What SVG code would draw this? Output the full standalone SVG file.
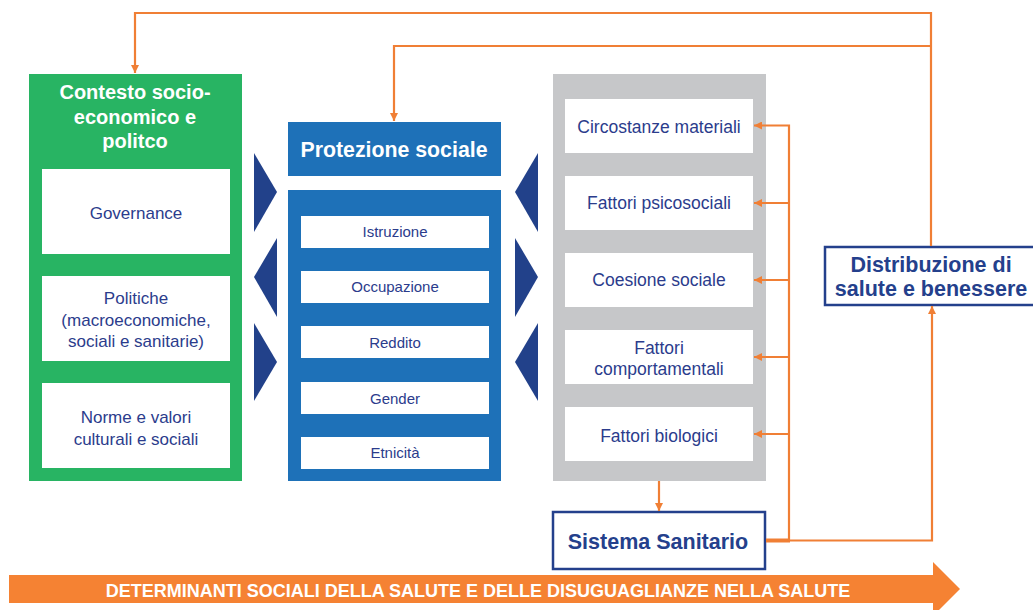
<svg xmlns="http://www.w3.org/2000/svg" width="1033" height="610" viewBox="0 0 1033 610">
<defs>
<style>
.t{font-family:"Liberation Sans",Arial,sans-serif;text-anchor:middle}
.w{fill:#ffffff}
.hd{font-weight:bold;fill:#ffffff;font-size:20px}
.sm{fill:#2B3C8C;font-size:15px}
.md{fill:#2B3C8C;font-size:17px}
.gm{fill:#2B3C8C;font-size:17.5px}
.bb{font-weight:bold;fill:#24408C;font-size:21px}
.ln{fill:none;stroke:#F07F35;stroke-width:2.2}
.tri{fill:#22418A}
</style>
<marker id="ah" viewBox="0 0 10 10" refX="10" refY="5" markerWidth="8" markerHeight="8" markerUnits="userSpaceOnUse" orient="auto">
<path d="M0,0 L10,5 L0,10 z" fill="#F07F35"/>
</marker>
</defs>
<rect width="1033" height="610" fill="#ffffff"/>

<g id="contesto">
<rect x="29" y="74" width="213" height="407" fill="#28B463"/>
<text class="t hd" x="135" y="99">Contesto socio-</text>
<text class="t hd" x="135" y="124">economico e</text>
<text class="t hd" x="135" y="148">politco</text>
<rect class="w" x="42" y="169" width="188" height="85"/>
<text class="t md" x="136" y="219">Governance</text>
<rect class="w" x="42" y="276" width="188" height="85"/>
<text class="t md" x="136" y="304">Politiche</text>
<text class="t md" x="136" y="326">(macroeconomiche,</text>
<text class="t md" x="136" y="347">sociali e sanitarie)</text>
<rect class="w" x="42" y="383" width="188" height="85"/>
<text class="t md" x="136" y="423">Norme e valori</text>
<text class="t md" x="136" y="445">culturali e sociali</text>
</g>

<g id="protezione">
<rect x="288" y="122" width="213" height="54" fill="#1E71B8"/>
<text class="t hd" x="394" y="157" style="font-size:21.3px">Protezione sociale</text>
<rect x="288" y="190" width="213" height="291" fill="#1E71B8"/>
<rect class="w" x="301" y="216" width="188" height="32"/>
<text class="t sm" x="395" y="237">Istruzione</text>
<rect class="w" x="301" y="271" width="188" height="32"/>
<text class="t sm" x="395" y="292">Occupazione</text>
<rect class="w" x="301" y="326" width="188" height="32"/>
<text class="t sm" x="395" y="348">Reddito</text>
<rect class="w" x="301" y="382" width="188" height="32"/>
<text class="t sm" x="395" y="404">Gender</text>
<rect class="w" x="301" y="437" width="188" height="32"/>
<text class="t sm" x="395" y="458">Etnicità</text>
</g>

<g id="fattori">
<rect x="553" y="74" width="213" height="407" fill="#C6C7C9"/>
<rect class="w" x="565" y="99" width="188" height="54"/>
<text class="t gm" x="659" y="133">Circostanze materiali</text>
<rect class="w" x="565" y="176" width="188" height="54"/>
<text class="t gm" x="659" y="209">Fattori psicosociali</text>
<rect class="w" x="565" y="253" width="188" height="54"/>
<text class="t gm" x="659" y="286">Coesione sociale</text>
<rect class="w" x="565" y="330" width="188" height="54"/>
<text class="t gm" x="659" y="354">Fattori</text>
<text class="t gm" x="659" y="375">comportamentali</text>
<rect class="w" x="565" y="407" width="188" height="54"/>
<text class="t gm" x="659" y="442">Fattori biologici</text>
</g>

<g id="triangoli">
<polygon class="tri" points="254,153 277,192 254,232"/>
<polygon class="tri" points="277,238 254,277 277,317"/>
<polygon class="tri" points="254,323 277,362 254,401"/>
<polygon class="tri" points="538,153 515,192 538,232"/>
<polygon class="tri" points="515,238 538,277 515,317"/>
<polygon class="tri" points="538,323 515,362 538,401"/>
</g>

<g id="distribuzione">
<rect x="825" y="247" width="210" height="58" fill="#ffffff" stroke="#24408C" stroke-width="2.5"/>
<text class="t bb" x="931" y="272" style="font-size:21.5px">Distribuzione di</text>
<text class="t bb" x="931" y="296" style="font-size:21.5px">salute e benessere</text>
</g>

<g id="sistema">
<rect x="553" y="512" width="212" height="57" fill="#ffffff" stroke="#24408C" stroke-width="2.5"/>
<text class="t bb" x="658" y="549" style="font-size:21.5px">Sistema Sanitario</text>
</g>

<g id="connettori">
<polyline class="ln" points="931,246 931,13 135,13 135,73" marker-end="url(#ah)"/>
<polyline class="ln" points="931,46 394,46 394,121" marker-end="url(#ah)"/>
<line class="ln" x1="659" y1="481" x2="659" y2="511" marker-end="url(#ah)"/>
<line x1="766" y1="540.5" x2="790" y2="540.5" stroke="#F07F35" stroke-width="4"/>
<polyline class="ln" points="789,540.5 789,125.5 754,125.5" marker-end="url(#ah)"/>
<line class="ln" x1="789" y1="203" x2="754" y2="203" marker-end="url(#ah)"/>
<line class="ln" x1="789" y1="280" x2="754" y2="280" marker-end="url(#ah)"/>
<line class="ln" x1="789" y1="357" x2="754" y2="357" marker-end="url(#ah)"/>
<line class="ln" x1="789" y1="434" x2="754" y2="434" marker-end="url(#ah)"/>
<polyline class="ln" points="789,540.5 932,540.5 932,306" marker-end="url(#ah)"/>
</g>

<g id="freccia">
<polygon points="9,575 933,575 933,562 960,589 933,616 933,603 9,603" fill="#F58233"/>
<text class="t" x="478" y="597" style="font-weight:bold;font-size:18px;fill:#ffffff">DETERMINANTI SOCIALI DELLA SALUTE E DELLE DISUGUAGLIANZE NELLA SALUTE</text>
</g>
</svg>
